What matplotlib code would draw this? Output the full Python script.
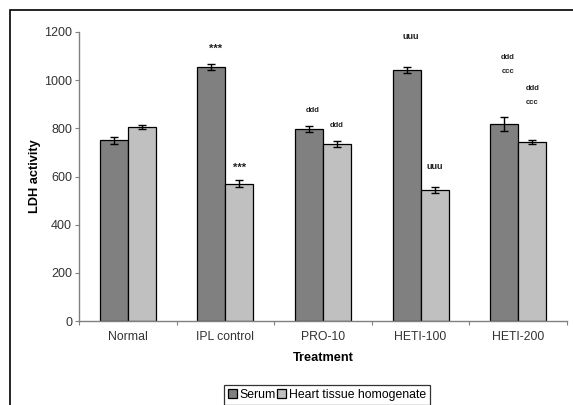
import matplotlib
matplotlib.use("Agg")
import matplotlib.pyplot as plt
from matplotlib.patches import Rectangle
import numpy as np

plt.rcParams['font.family'] = ['Liberation Sans', 'DejaVu Sans']

categories = ["Normal", "IPL control", "PRO-10", "HETI-100", "HETI-200"]
serum = [751, 1055, 798, 1041, 817]
serum_err = [14, 14, 12, 12, 28]
heart = [805, 570, 734, 545, 743]
heart_err = [9, 15, 12, 12, 8]
# annotation labels and their heights (data units)
serum_marks = [[], [("***", 1140)], [("ddd", 876)], [("uuu", 1180)], [("ddd", 1095), ("ccc", 1038)]]
heart_marks = [[], [("***", 643)], [("ddd", 810)], [("uuu", 640)], [("ddd", 967), ("ccc", 909)]]

W, H = 573, 405
fig = plt.figure(figsize=(W / 100, H / 100), dpi=100)
ax = fig.add_axes([79 / W, 1 - 321 / H, (567 - 79) / W, (321 - 32) / H])

# outer frame
fig.patches.append(Rectangle((10 / W, -0.2), 1.2, 1 - 10 / H + 0.2, transform=fig.transFigure,
                             fill=False, edgecolor='black', linewidth=1.2))

x = np.arange(len(categories)) + 0.5
bw = 0.287
ekw = dict(ecolor='black', elinewidth=1.0, capsize=3, capthick=1.0)
ax.bar(x - bw / 2, serum, bw, yerr=serum_err, color='#808080', edgecolor='black',
       linewidth=0.9, label='Serum', error_kw=ekw)
ax.bar(x + bw / 2, heart, bw, yerr=heart_err, color='#c0c0c0', edgecolor='black',
       linewidth=0.9, label='Heart tissue homogenate', error_kw=ekw)

def mark(xp, yv, txt):
    fs = {"***": 8, "uuu": 6.5}.get(txt, 5.5)
    yoff = -8 if txt == "***" else 0
    ax.text(xp, yv + yoff, txt, ha='center', va='center', fontsize=fs,
            fontweight='bold', color='#222222')

for i in range(len(categories)):
    for txt, yv in serum_marks[i]:
        mark(x[i] - bw / 2 + 0.04, yv, txt)
    for txt, yv in heart_marks[i]:
        mark(x[i] + bw / 2, yv, txt)

ax.set_xlim(0, len(categories))
ax.set_ylim(0, 1200)
ax.set_yticks(np.arange(0, 1201, 200))
ax.set_xticks(np.arange(0, len(categories) + 1))
ax.set_xticklabels([])
ax.set_xticks(x, minor=True)
ax.set_xticklabels(categories, minor=True)
ax.tick_params(axis='x', which='minor', length=0, pad=7, labelsize=8.8, colors='#333333')
ax.tick_params(axis='x', which='major', length=3, direction='out', color='#808080')
ax.tick_params(axis='y', length=3, direction='out', color='#808080', labelsize=9,
               labelcolor='#333333', pad=2)
for s in ['top', 'right']:
    ax.spines[s].set_visible(False)
for s in ['left', 'bottom']:
    ax.spines[s].set_color('#808080')
    ax.spines[s].set_linewidth(1.0)

ax.set_ylabel('LDH activity', fontsize=9.2, fontweight='bold', labelpad=2)
ax.set_xlabel('Treatment', fontsize=9.2, fontweight='bold', labelpad=7)

leg = fig.legend(loc='center', bbox_to_anchor=(327 / W, 1 - 395 / H), ncol=2,
                 fontsize=8.8, frameon=True, fancybox=False, edgecolor='black',
                 handlelength=0.7, handleheight=0.7, handletextpad=0.25,
                 columnspacing=0.1, borderpad=0.35, borderaxespad=0)
leg.get_frame().set_linewidth(0.9)

fig.savefig('out.png', dpi=100)
